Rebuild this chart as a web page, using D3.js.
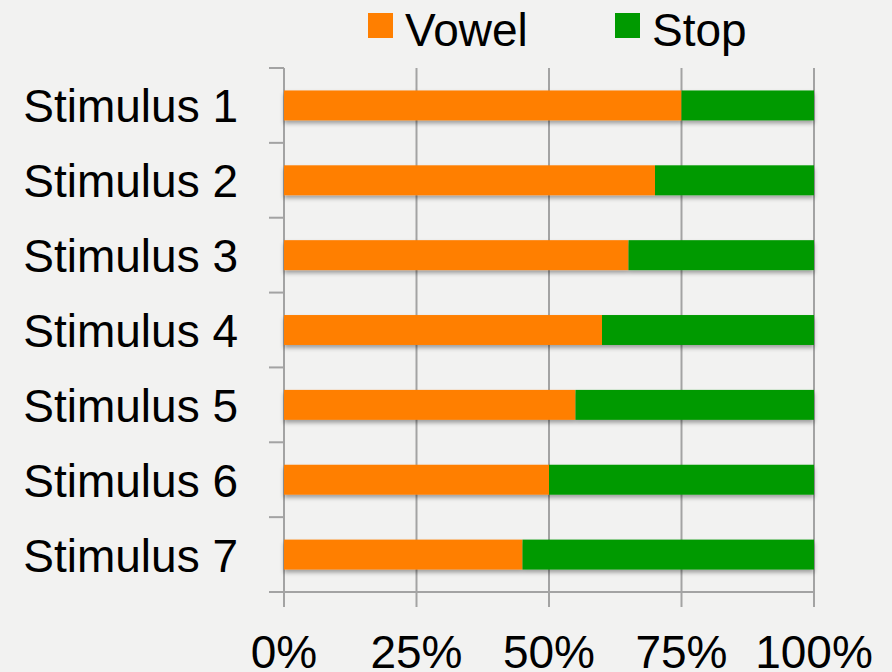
<!DOCTYPE html>
<html><head><meta charset="utf-8">
<script src="https://cdn.jsdelivr.net/npm/d3@7"></script>
<style>html,body{margin:0;padding:0;background:#f2f2f1;}svg{display:block;}</style>
</head><body>
<svg id="chart" width="892" height="672"></svg>
<script>
const categories = ["Stimulus 1","Stimulus 2","Stimulus 3","Stimulus 4","Stimulus 5","Stimulus 6","Stimulus 7"];
const vowel = [75,70,65,60,55,50,45];
const stop = [25,30,35,40,45,50,55];
const seriesNames = ["Vowel","Stop"];
const seriesColors = ["#ff7f00","#009a00"];
const xTicks = [0,25,50,75,100];

(function(){
const svg = d3.select("#chart");
const font = "'Liberation Sans', Arial, sans-serif";
const pLeft = 284, pRight = 814, pTop = 68, pBottom = 592;

const x = d3.scaleLinear().domain([0,100]).range([pLeft,pRight]);
const y = d3.scaleBand().domain(categories).range([pTop,pBottom]).paddingInner(0.6).paddingOuter(0.3);

const defs = svg.append("defs");
const f = defs.append("filter").attr("id","sh").attr("x","-5%").attr("y","-30%").attr("width","110%").attr("height","180%");
f.append("feDropShadow").attr("dx",0).attr("dy",3).attr("stdDeviation",2).attr("flood-color","#000").attr("flood-opacity",0.35);

const gridColor = "#a3a3a3";
svg.append("g").selectAll("line").data(xTicks).join("line")
  .attr("x1",d=>x(d)).attr("x2",d=>x(d)).attr("y1",pTop).attr("y2",pBottom+15)
  .attr("stroke",gridColor).attr("stroke-width",2);
svg.append("line").attr("x1",pLeft-15).attr("x2",pRight+1).attr("y1",pBottom).attr("y2",pBottom)
  .attr("stroke",gridColor).attr("stroke-width",2);
const bounds = d3.range(categories.length+1).map(i => pTop + i*(pBottom-pTop)/categories.length);
svg.append("g").selectAll("line").data(bounds).join("line")
  .attr("x1",pLeft-15).attr("x2",pLeft).attr("y1",d=>d).attr("y2",d=>d)
  .attr("stroke",gridColor).attr("stroke-width",2);

const stacked = categories.map((c,i)=>({c, v:vowel[i], s:stop[i]}));
const gBars = svg.append("g").attr("filter","url(#sh)");
gBars.selectAll("rect.v").data(stacked).join("rect").attr("class","v")
  .attr("x",x(0)).attr("y",d=>y(d.c)).attr("width",d=>x(d.v)-x(0)).attr("height",y.bandwidth())
  .attr("fill",seriesColors[0]);
gBars.selectAll("rect.s").data(stacked).join("rect").attr("class","s")
  .attr("x",d=>x(d.v)).attr("y",d=>y(d.c)).attr("width",d=>x(d.v+d.s)-x(d.v)).attr("height",y.bandwidth())
  .attr("fill",seriesColors[1]);

svg.append("g").selectAll("text").data(categories).join("text")
  .attr("x",238).attr("y",d=>y(d)+y.bandwidth()/2+17)
  .attr("text-anchor","end").attr("font-family",font).attr("font-size",46).attr("fill","#000")
  .text(d=>d);

svg.append("g").selectAll("text").data(xTicks).join("text")
  .attr("x",d=>x(d)).attr("y",668)
  .attr("text-anchor","middle").attr("font-family",font).attr("font-size",46).attr("fill","#000")
  .text(d=>d+"%");

const legX = [368,615];
const lg = svg.append("g").selectAll("g").data(seriesNames).join("g");
lg.append("rect").attr("x",(d,i)=>legX[i]).attr("y",13).attr("width",25).attr("height",25)
  .attr("fill",(d,i)=>seriesColors[i]);
lg.append("text").attr("x",(d,i)=>legX[i]+37).attr("y",46)
  .attr("font-family",font).attr("font-size",46).attr("fill","#000").text(d=>d);
})();
</script>
</body></html>
